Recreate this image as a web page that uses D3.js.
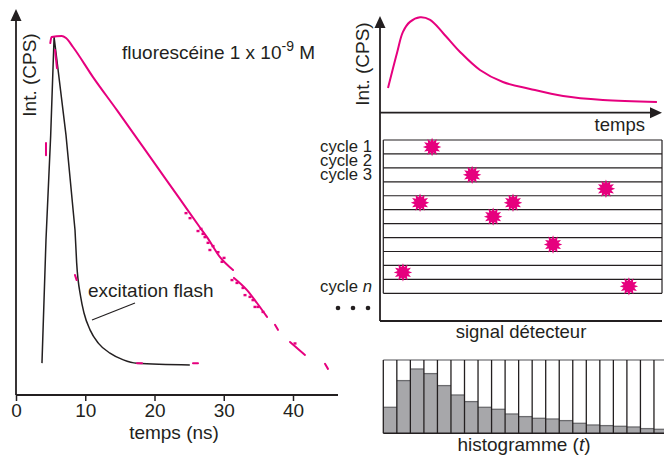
<!DOCTYPE html>
<html><head><meta charset="utf-8">
<script src="https://cdn.jsdelivr.net/npm/d3@7"></script>
<style>
body{margin:0;background:#fff}
svg{display:block}
text{font-family:"Liberation Sans",Arial,Helvetica,sans-serif;fill:#231f20}
</style>
</head><body>
<svg id="c" width="664" height="455"></svg>
<script>
// ---------------- DATA ----------------
const timeTicks = [0, 10, 20, 30, 40];
const timeTickLabels = ["0", "10", "20", "30", "40"];

// excitation flash (time ns, intensity a.u.)
const flashCurve = [[3.75,8.9],[4.33,43.3],[5.01,72.6],[5.5,100],[7.22,72.6],[8.52,46.1],
  [8.76,36.9],[9.34,27.4],[9.82,22.9],[10.69,18.2],[11.88,14.5],[13.57,11.7],[15.5,9.8],[17.43,8.85],[25.1,8.4]];

// fluorescein decay, drawn as separate fragments (time ns, intensity a.u.)
const decaySegments = [
  [[4.95,98.3],[5.13,100],[6.6,100.3],[7.22,99.7],[8.23,97.2],[11.12,88.8],[14.6,79.5],[18.34,69.3],
   [23.68,54.7],[26.57,46.8],[27.58,44.1],[29.46,38.5],[31.34,34.9]],
  [[31.48,32.7],[33.36,29.3],[34.8,25.7],[36.25,21.8]],
  [[37.4,19.6],[37.83,18.2]],
  [[39.57,14.8],[41.73,11.2]],
  [[44.62,8.7],[45.05,7.3]],
  [[4.33,70.4],[4.33,67]],
  [[5.63,96.4],[5.92,91.3]],
  [[8.52,33.5],[8.76,32.1]],
  [[17.47,8.9],[18.2,8.9]],
  [[25.56,8.9],[26.28,8.9]]
];
// scattered photon counts around the decay
const decaySpecks = [[24.55,50.8],[25.13,49.4],[26.28,45.8],[26.72,46.4],[27.0,45.0],[27.29,44.1],
  [27.73,42.5],[28.0,40.5],[28.45,41.6],[29.17,39.9],[29.75,37.2],[30.04,38.3],[31.19,32.1],[31.91,31.3],
  [32.78,29.9],[33.07,27.9],[33.79,27.4],[34.22,26.5],[34.51,24.6],[34.95,24.6],[35.67,23.2],[40.29,14.4]];

// schematic response curve (time a.u., intensity a.u.)
const responseCurve = [[2.86,25.9],[6.07,62.6],[8.2,84.7],[10.7,95.2],[14.3,100],[17.9,97.3],[22.5,83.6],
  [28.6,63.7],[35.7,44.8],[43.9,32.2],[53.6,24.9],[65.4,17.5],[79.6,13.3],[98.9,11.2]];

// detected photons: cycle number and arrival time (a.u.)
const cycleCount = 11;
const photons = [
  {cycle:1, t:18.6},{cycle:3, t:32.9},{cycle:4, t:80.7},{cycle:5, t:14.3},{cycle:5, t:47.5},
  {cycle:6, t:40.4},{cycle:8, t:61.8},{cycle:10, t:8.2},{cycle:11, t:88.9}
];
const cycleLabels = [{cycle:1, name:"cycle ", idx:"1"},{cycle:2, name:"cycle ", idx:"2"},
  {cycle:3, name:"cycle ", idx:"3"},{cycle:11, name:"cycle ", idx:"n"}];

// histogram counts per time bin
const histCounts = [26,52.7,64.3,59.7,47.7,38.3,31.7,26,24,19.3,16.7,15,14.3,12.7,10,8.3,7.7,7,6.3,4.7,4];
const histMax = 73.3;

// ---------------- DRAW ----------------
const MAG = "#e6007e", INK = "#231f20";
const svg = d3.select("#c");

// ---- left panel ----
const xL = d3.scaleLinear().domain([0, 40]).range([16, 293]);
const yL = d3.scaleLinear().domain([0, 100]).range([395, 37]);
const gL = svg.append("g");

const axB = d3.axisBottom(xL).tickValues(timeTicks).tickFormat((d,i)=>timeTickLabels[i])
  .tickSize(6).tickPadding(3).tickSizeOuter(0);
const gx = gL.append("g").attr("transform", `translate(0,${yL(0)})`).call(axB);
gx.select(".domain").remove();
gx.selectAll(".tick line").attr("stroke", INK).attr("stroke-width", 1.5);
gx.selectAll(".tick text").attr("font-size", 19).attr("fill", INK)
  .attr("font-family", '"Liberation Sans",Arial,sans-serif');

gL.append("line").attr("x1", xL(0)).attr("x2", 338).attr("y1", yL(0)).attr("y2", yL(0))
  .attr("stroke", INK).attr("stroke-width", 1.8);
gL.append("line").attr("x1", xL(0)).attr("x2", xL(0)).attr("y1", yL(0)).attr("y2", 18)
  .attr("stroke", INK).attr("stroke-width", 1.8);
gL.append("path").attr("d", `M${xL(0)},9 L${xL(0)-5.5},21 L${xL(0)+5.5},21 Z`).attr("fill", INK);

const lineL = d3.line().x(d=>xL(d[0])).y(d=>yL(d[1]));
// flash: sharp legs + smooth tail
gL.append("path").attr("d", lineL(flashCurve.slice(0, 6))).attr("fill","none")
  .attr("stroke", INK).attr("stroke-width", 1.5).attr("stroke-linejoin","round");
gL.append("path").attr("d", lineL.curve(d3.curveMonotoneX)(flashCurve.slice(5))).attr("fill","none")
  .attr("stroke", INK).attr("stroke-width", 1.5);

const lineD = d3.line().x(d=>xL(d[0])).y(d=>yL(d[1])).curve(d3.curveMonotoneX);
gL.selectAll("path.decay").data(decaySegments).join("path").attr("class","decay")
  .attr("d", d => d[0][0] === d[d.length-1][0] ? d3.line().x(p=>xL(p[0])).y(p=>yL(p[1]))(d) : lineD(d))
  .attr("fill","none").attr("stroke", MAG).attr("stroke-width", 2).attr("stroke-linecap","round");
gL.selectAll("rect.speck").data(decaySpecks).join("rect").attr("class","speck")
  .attr("x", d=>xL(d[0])-1.5).attr("y", d=>yL(d[1])-1.2).attr("width", 3).attr("height", 2.4)
  .attr("fill", MAG);

gL.append("text").attr("x", (xL(0)+338)/2 - 3).attr("y", 439).attr("text-anchor","middle")
  .attr("font-size", 19).text("temps (ns)");
gL.append("text").attr("transform", `translate(36,75) rotate(-90)`).attr("text-anchor","middle")
  .attr("font-size", 19).text("Int. (CPS)");
const title = gL.append("text").attr("x", 122).attr("y", 59).attr("font-size", 19);
title.append("tspan").text("fluorescéine 1 x 10");
title.append("tspan").attr("dy", -8).attr("font-size", 14).text("-9");
title.append("tspan").attr("dy", 8).text(" M");

gL.append("text").attr("x", 88).attr("y", 297).attr("font-size", 19).text("excitation flash");
gL.append("line").attr("x1", 92).attr("y1", 320).attr("x2", 135).attr("y2", 303)
  .attr("stroke", INK).attr("stroke-width", 1.2);

// ---- right top panel ----
const xR = d3.scaleLinear().domain([0, 100]).range([380, 660]);
const yR = d3.scaleLinear().domain([0, 100]).range([112.7, 17.3]);
const gR = svg.append("g");
gR.append("line").attr("x1", xR(0)).attr("x2", xR(0)).attr("y1", 27).attr("y2", 321)
  .attr("stroke", INK).attr("stroke-width", 1.8);
gR.append("path").attr("d", `M${xR(0)},16 L${xR(0)-5.5},28 L${xR(0)+5.5},28 Z`).attr("fill", INK);
gR.append("line").attr("x1", xR(0)).attr("x2", 652).attr("y1", yR(0)).attr("y2", yR(0))
  .attr("stroke", INK).attr("stroke-width", 1.8);
gR.append("path").attr("d", `M662,${yR(0)} L650,${yR(0)-5.5} L650,${yR(0)+5.5} Z`).attr("fill", INK);
gR.append("path").attr("d", d3.line().x(d=>xR(d[0])).y(d=>yR(d[1])).curve(d3.curveCatmullRom.alpha(0.5))(responseCurve))
  .attr("fill","none").attr("stroke", MAG).attr("stroke-width", 2);
gR.append("text").attr("x", 645).attr("y", 131).attr("text-anchor","end").attr("font-size", 18.5).text("temps");
gR.append("text").attr("transform", `translate(369,64) rotate(-90)`).attr("text-anchor","middle")
  .attr("font-size", 19).text("Int. (CPS)");

// ---- cycles panel ----
const rowY = d3.scaleLinear().domain([0, cycleCount]).range([140, 293.3]);
const boxL = 383.3, boxR = 662;
const gC = svg.append("g");
gC.append("line").attr("x1", xR(0)).attr("x2", 662).attr("y1", 321).attr("y2", 321)
  .attr("stroke", INK).attr("stroke-width", 1.8);
gC.selectAll("line.row").data(d3.range(cycleCount+1)).join("line").attr("class","row")
  .attr("x1", boxL).attr("x2", boxR).attr("y1", d=>rowY(d)).attr("y2", d=>rowY(d))
  .attr("stroke", INK).attr("stroke-width", 1.2);
gC.append("line").attr("x1", boxL).attr("x2", boxL).attr("y1", rowY(0)).attr("y2", rowY(cycleCount))
  .attr("stroke", INK).attr("stroke-width", 1.2);
gC.append("line").attr("x1", boxR).attr("x2", boxR).attr("y1", rowY(0)).attr("y2", rowY(cycleCount))
  .attr("stroke", INK).attr("stroke-width", 1.2);

const labs = gC.selectAll("text.cyc").data(cycleLabels).join("text").attr("class","cyc")
  .attr("x", 372).attr("y", d=>rowY(d.cycle)-1.5).attr("text-anchor","end").attr("font-size", 16.7);
labs.append("tspan").text(d=>d.name);
labs.append("tspan").attr("font-style", d=>d.idx==="n"?"italic":"normal").text(d=>d.idx);
gC.selectAll("circle.dot").data([0,1,2]).join("circle").attr("class","dot")
  .attr("cx", d=>338+d*15).attr("cy", 308).attr("r", 2.3).attr("fill", INK);

const starPts = d3.range(24).map(i => [i*Math.PI/12, i%2===0 ? 9.2 : 5.6]);
const starPath = d3.lineRadial().curve(d3.curveLinearClosed)(starPts);
gC.selectAll("path.star").data(photons).join("path").attr("class","star")
  .attr("transform", d=>`translate(${xR(d.t)},${rowY(d.cycle-0.5)})`)
  .attr("d", starPath).attr("fill", MAG);

gC.append("text").attr("x", 521).attr("y", 338).attr("text-anchor","middle").attr("font-size", 18.5)
  .text("signal détecteur");

// ---- histogram ----
const xH = d3.scaleLinear().domain([0, histCounts.length]).range([383.3, 667.5]);
const yH = d3.scaleLinear().domain([0, histMax]).range([433.3, 360]);
const gH = svg.append("g");
gH.selectAll("rect.bin").data(histCounts).join("rect").attr("class","bin")
  .attr("x", (d,i)=>xH(i)).attr("y", d=>yH(d)).attr("width", (d,i)=>xH(i+1)-xH(i))
  .attr("height", d=>yH(0)-yH(d)).attr("fill", "#a7a7aa");
gH.selectAll("line.lvl").data(histCounts).join("line").attr("class","lvl")
  .attr("x1", (d,i)=>xH(i)).attr("x2", (d,i)=>xH(i+1)).attr("y1", d=>yH(d)).attr("y2", d=>yH(d))
  .attr("stroke", "#6b6b6e").attr("stroke-width", 1.3);
gH.append("line").attr("x1", xH(0)).attr("x2", 664).attr("y1", yH(histMax)).attr("y2", yH(histMax))
  .attr("stroke", "#8a8a8c").attr("stroke-width", 1.5);
gH.append("line").attr("x1", xH(0)).attr("x2", 664).attr("y1", yH(0)).attr("y2", yH(0))
  .attr("stroke", INK).attr("stroke-width", 1.5);
gH.selectAll("line.sep").data(d3.range(histCounts.length+1)).join("line").attr("class","sep")
  .attr("x1", d=>xH(d)).attr("x2", d=>xH(d)).attr("y1", yH(histMax)).attr("y2", yH(0))
  .attr("stroke", INK).attr("stroke-width", 1.3);
const ht = gH.append("text").attr("x", 524).attr("y", 451).attr("text-anchor","middle").attr("font-size", 19);
ht.append("tspan").text("histogramme (");
ht.append("tspan").attr("font-style","italic").text("t");
ht.append("tspan").text(")");
</script>
</body></html>
